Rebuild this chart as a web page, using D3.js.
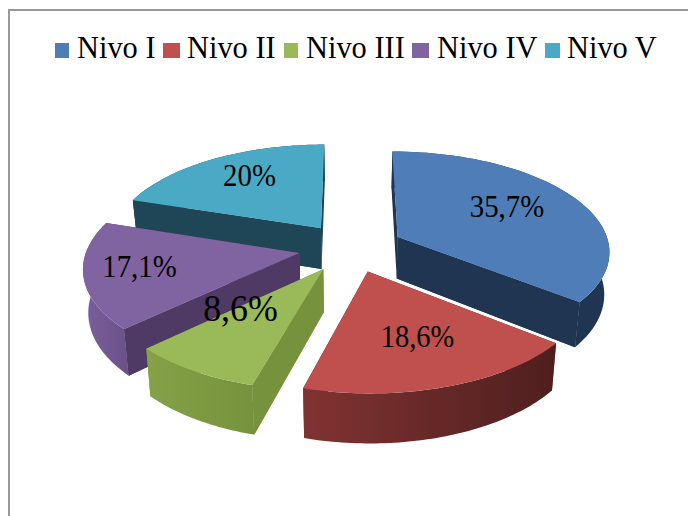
<!DOCTYPE html>
<html><head><meta charset="utf-8">
<script src="https://cdn.jsdelivr.net/npm/d3@7"></script>
<style>html,body{margin:0;padding:0;background:#fff}svg{display:block}text{font-family:"Liberation Serif",serif;fill:#000}</style>
</head><body><svg id="c" width="688" height="516"></svg>
<script>
const categories = ["Nivo I","Nivo II","Nivo III","Nivo IV","Nivo V"];
const values = [35.7,18.6,8.6,17.1,20];
const valueLabels = ["35,7%","18,6%","8,6%","17,1%","20%"];
const topColors = ["#4f7db8","#bf504d","#9aba59","#8063a1","#4aa9c5"];
const edgeColors = ["#1f3552","#5a2423","#76923c","#4f3a66","#1f4656"];
const rimFrom = ["#1f3552","#803332","#84a247","#7b5f9d","#1f4656"];
const rimTo = ["#1f3552","#4e1f1e","#76923c","#6a5088","#1f4656"];
// layout
const cx=351, cy=247.5, R=210, kx=1.01, tilt=0.472, gap=52, persp=0.13, depth=42, taper=0.98;
const drawOrder=[4,0,3,2,1];
const labelPos=[[507,217,32,.9],[417.5,347,32,.89],[240.5,321,38.5,.93],[139.5,277,32,.9],[249.5,186,32,.9]];
const legendSwatch=[[55,14],[163,17],[284,14],[412,17],[545,15]];
const legendText=[77,187,306,437,567];

const svg=d3.select("#c");
const defs=svg.append("defs");
// frame
svg.append("path").attr("d","M9,516V10H688").attr("fill","none").attr("stroke","#999").attr("stroke-width",2);

const arcs=d3.pie().sort(null).value(d=>d)(values);
const line=d3.line();
// project a point of the slice plane (radius r at angle t, slice pulled out along its mid angle)
const project=(a,r,t,bottom)=>{
  const m=(a.startAngle+a.endAngle)/2;
  const X=gap*Math.sin(m)+r*Math.sin(t);
  const V=-gap*Math.cos(m)-r*Math.cos(t);
  const s=1/(1-persp*V/R);
  const x=X*kx*s, y=tilt*V*s;
  return bottom ? [cx+x*taper, cy+y+depth*s] : [cx+x, cy+y];
};
const sampler=a=>d3.range(0,61).map(i=>a.startAngle+(a.endAngle-a.startAngle)*i/60);

drawOrder.forEach(i=>{
  const a=arcs[i], ts=sampler(a);
  const ap=project(a,0,0,false), apB=project(a,0,0,true);
  const top=t=>project(a,R,t,false), bot=t=>project(a,R,t,true);
  const g=svg.append("g");
  const gid="rim"+i;
  const lg=defs.append("linearGradient").attr("id",gid);
  lg.append("stop").attr("offset",0).attr("stop-color",rimFrom[i]);
  lg.append("stop").attr("offset",1).attr("stop-color",rimTo[i]);
  // radial cut faces
  [a.startAngle,a.endAngle].forEach(t=>{
    g.append("path").attr("d",line([ap,top(t),bot(t),apB])+"Z").attr("fill",edgeColors[i]);
  });
  // outer wall
  g.append("path").attr("d",line(ts.map(top).concat(ts.slice().reverse().map(bot)))+"Z").attr("fill",`url(#${gid})`);
  // cut face that looks toward the viewer goes over the wall
  const frontEdge = i===0 ? a.endAngle : (i===2||i===3||i===4) ? a.startAngle : null;
  if(frontEdge!==null){
    g.append("path").attr("d",line([ap,top(frontEdge),bot(frontEdge),apB])+"Z").attr("fill",edgeColors[i]);
  }
  // top face
  g.append("path").attr("d",line([ap].concat(ts.map(top)))+"Z").attr("fill",topColors[i]);
});

// value labels
valueLabels.forEach((t,i)=>{
  const p=labelPos[i];
  svg.append("text").attr("transform",`translate(${p[0]},${p[1]}) scale(${p[3]},1)`).attr("text-anchor","middle").attr("font-size",p[2]).text(t);
});
// legend
categories.forEach((t,i)=>{
  svg.append("rect").attr("x",legendSwatch[i][0]).attr("y",43).attr("width",legendSwatch[i][1]).attr("height",15).attr("fill",topColors[i]);
  svg.append("text").attr("transform",`translate(${legendText[i]},58) scale(.95,1)`).attr("font-size",32).text(t);
});
</script></body></html>
